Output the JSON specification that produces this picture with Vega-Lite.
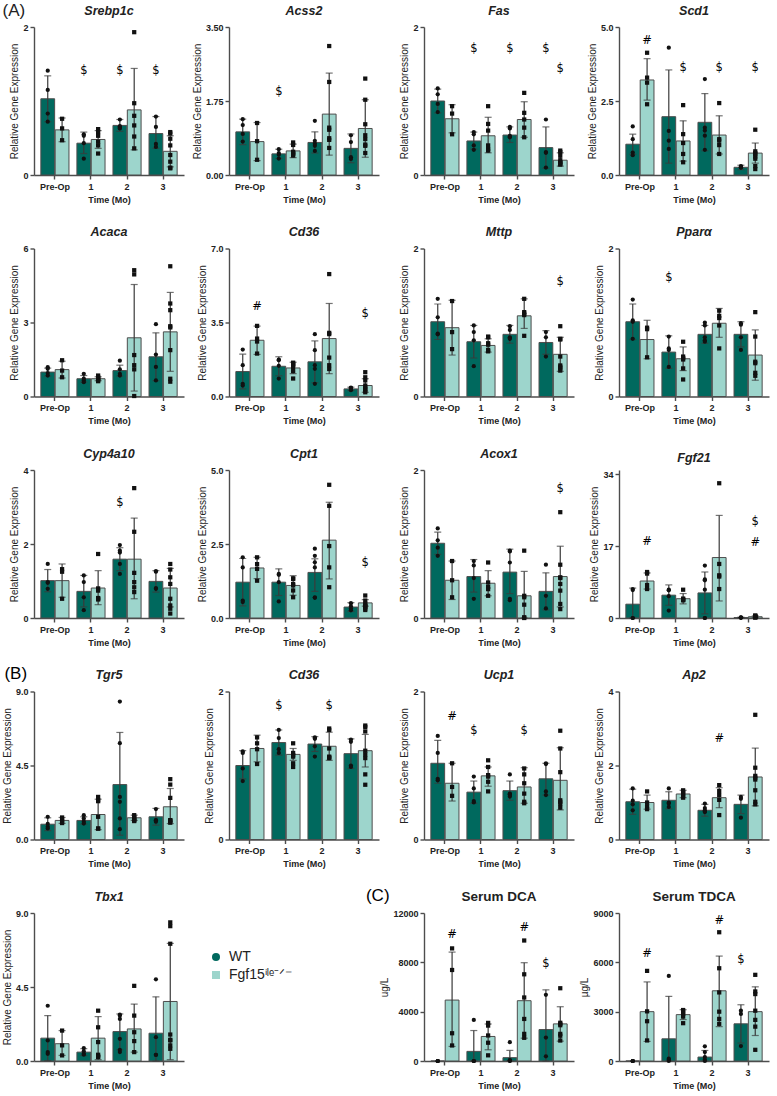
{
"$schema":"https://vega.github.io/schema/vega-lite/v6.json",
"background":"white",
"padding":{"left":2,"top":1,"right":4,"bottom":1},
"title":{"text":"(A)","anchor":"start","frame":"bounds","offset":-15,"fontSize":17,"fontWeight":"normal","fontStyle":"normal","color":"#222222"},
"columns":4,
"spacing":{"row":73.5,"column":45},
"bounds":"flush",
"resolve":{"legend":{"fill":"independent","shape":"independent"}},
"datasets":{
"Srebp1c":[
{"t":"Pre-Op","g":"WT","m":1.03,"lo":0.72,"hi":1.34},{"t":"Pre-Op","g":"KO","m":0.61,"lo":0.45,"hi":0.77},{"t":"1","g":"WT","m":0.43,"lo":0.29,"hi":0.58},{"t":"1","g":"KO","m":0.48,"lo":0.36,"hi":0.60},{"t":"2","g":"WT","m":0.67,"lo":0.59,"hi":0.75},{"t":"2","g":"KO","m":0.88,"lo":0.34,"hi":1.44},{"t":"3","g":"WT","m":0.56,"lo":0.36,"hi":0.79},{"t":"3","g":"KO","m":0.32,"lo":0.11,"hi":0.53},
{"t":"Pre-Op","g":"WT","v":1.41},{"t":"Pre-Op","g":"WT","v":1.15},{"t":"Pre-Op","g":"WT","v":0.83},{"t":"Pre-Op","g":"WT","v":0.72},
{"t":"Pre-Op","g":"KO","v":0.76},{"t":"Pre-Op","g":"KO","v":0.63},{"t":"Pre-Op","g":"KO","v":0.47},
{"t":"1","g":"WT","v":0.55},{"t":"1","g":"WT","v":0.53},{"t":"1","g":"WT","v":0.43},{"t":"1","g":"WT","v":0.22},
{"t":"1","g":"KO","v":0.62},{"t":"1","g":"KO","v":0.58},{"t":"1","g":"KO","v":0.53},{"t":"1","g":"KO","v":0.45},{"t":"1","g":"KO","v":0.40},{"t":"1","g":"KO","v":0.29},
{"t":"2","g":"WT","v":0.75},{"t":"2","g":"WT","v":0.66},{"t":"2","g":"WT","v":0.65},{"t":"2","g":"WT","v":0.64},{"t":"2","g":"WT","v":0.63},
{"t":"2","g":"KO","v":1.93},{"t":"2","g":"KO","v":0.97},{"t":"2","g":"KO","v":0.80},{"t":"2","g":"KO","v":0.67},{"t":"2","g":"KO","v":0.52},{"t":"2","g":"KO","v":0.36},
{"t":"3","g":"WT","v":0.79},{"t":"3","g":"WT","v":0.65},{"t":"3","g":"WT","v":0.42},{"t":"3","g":"WT","v":0.38},
{"t":"3","g":"KO","v":0.58},{"t":"3","g":"KO","v":0.56},{"t":"3","g":"KO","v":0.49},{"t":"3","g":"KO","v":0.40},{"t":"3","g":"KO","v":0.27},{"t":"3","g":"KO","v":0.18},{"t":"3","g":"KO","v":0.10},{"t":"3","g":"KO","v":0.09},
{"t":"1","g":"WT","lab":"$","ya":1.41},{"t":"2","g":"WT","lab":"$","ya":1.41},{"t":"3","g":"WT","lab":"$","ya":1.41}
],
"Acss2":[
{"t":"Pre-Op","g":"WT","m":1.02,"lo":0.72,"hi":1.32},{"t":"Pre-Op","g":"KO","m":0.79,"lo":0.34,"hi":1.24},{"t":"1","g":"WT","m":0.50,"lo":0.39,"hi":0.61},{"t":"1","g":"KO","m":0.57,"lo":0.41,"hi":0.73},{"t":"2","g":"WT","m":0.77,"lo":0.52,"hi":1.02},{"t":"2","g":"KO","m":1.44,"lo":0.47,"hi":2.41},{"t":"3","g":"WT","m":0.63,"lo":0.29,"hi":0.97},{"t":"3","g":"KO","m":1.10,"lo":0.42,"hi":1.78},
{"t":"Pre-Op","g":"WT","v":1.32},{"t":"Pre-Op","g":"WT","v":1.18},{"t":"Pre-Op","g":"WT","v":0.97},{"t":"Pre-Op","g":"WT","v":0.79},
{"t":"Pre-Op","g":"KO","v":1.23},{"t":"Pre-Op","g":"KO","v":0.80},{"t":"Pre-Op","g":"KO","v":0.36},
{"t":"1","g":"WT","v":0.61},{"t":"1","g":"WT","v":0.52},{"t":"1","g":"WT","v":0.48},{"t":"1","g":"WT","v":0.39},
{"t":"1","g":"KO","v":0.77},{"t":"1","g":"KO","v":0.71},{"t":"1","g":"KO","v":0.55},{"t":"1","g":"KO","v":0.52},{"t":"1","g":"KO","v":0.50},{"t":"1","g":"KO","v":0.46},
{"t":"2","g":"WT","v":1.28},{"t":"2","g":"WT","v":0.81},{"t":"2","g":"WT","v":0.74},{"t":"2","g":"WT","v":0.69},{"t":"2","g":"WT","v":0.57},
{"t":"2","g":"KO","v":3.05},{"t":"2","g":"KO","v":2.20},{"t":"2","g":"KO","v":1.12},{"t":"2","g":"KO","v":1.07},{"t":"2","g":"KO","v":0.87},{"t":"2","g":"KO","v":0.83},{"t":"2","g":"KO","v":0.64},
{"t":"3","g":"WT","v":0.94},{"t":"3","g":"WT","v":0.78},{"t":"3","g":"WT","v":0.42},{"t":"3","g":"WT","v":0.38},
{"t":"3","g":"KO","v":2.28},{"t":"3","g":"KO","v":1.78},{"t":"3","g":"KO","v":1.20},{"t":"3","g":"KO","v":0.94},{"t":"3","g":"KO","v":0.85},{"t":"3","g":"KO","v":0.72},{"t":"3","g":"KO","v":0.69},{"t":"3","g":"KO","v":0.52},
{"t":"1","g":"WT","lab":"$","ya":1.97}
],
"Fas":[
{"t":"Pre-Op","g":"WT","m":1.00,"lo":0.84,"hi":1.16},{"t":"Pre-Op","g":"KO","m":0.76,"lo":0.57,"hi":0.95},{"t":"1","g":"WT","m":0.46,"lo":0.35,"hi":0.58},{"t":"1","g":"KO","m":0.53,"lo":0.30,"hi":0.78},{"t":"2","g":"WT","m":0.54,"lo":0.44,"hi":0.65},{"t":"2","g":"KO","m":0.75,"lo":0.51,"hi":0.99},{"t":"3","g":"WT","m":0.37,"lo":0.09,"hi":0.65},{"t":"3","g":"KO","m":0.20,"lo":0.12,"hi":0.30},
{"t":"Pre-Op","g":"WT","v":1.17},{"t":"Pre-Op","g":"WT","v":1.09},{"t":"Pre-Op","g":"WT","v":0.96},{"t":"Pre-Op","g":"WT","v":0.85},
{"t":"Pre-Op","g":"KO","v":0.93},{"t":"Pre-Op","g":"KO","v":0.83},{"t":"Pre-Op","g":"KO","v":0.55},
{"t":"1","g":"WT","v":0.58},{"t":"1","g":"WT","v":0.55},{"t":"1","g":"WT","v":0.40},{"t":"1","g":"WT","v":0.34},
{"t":"1","g":"KO","v":0.93},{"t":"1","g":"KO","v":0.69},{"t":"1","g":"KO","v":0.60},{"t":"1","g":"KO","v":0.40},{"t":"1","g":"KO","v":0.35},{"t":"1","g":"KO","v":0.33},
{"t":"2","g":"WT","v":0.65},{"t":"2","g":"WT","v":0.63},{"t":"2","g":"WT","v":0.53},{"t":"2","g":"WT","v":0.52},{"t":"2","g":"WT","v":0.51},
{"t":"2","g":"KO","v":1.11},{"t":"2","g":"KO","v":0.84},{"t":"2","g":"KO","v":0.75},{"t":"2","g":"KO","v":0.64},{"t":"2","g":"KO","v":0.51},
{"t":"3","g":"WT","v":0.75},{"t":"3","g":"WT","v":0.31},{"t":"3","g":"WT","v":0.30},{"t":"3","g":"WT","v":0.10},
{"t":"3","g":"KO","v":0.33},{"t":"3","g":"KO","v":0.31},{"t":"3","g":"KO","v":0.26},{"t":"3","g":"KO","v":0.20},{"t":"3","g":"KO","v":0.17},{"t":"3","g":"KO","v":0.17},{"t":"3","g":"KO","v":0.15},{"t":"3","g":"KO","v":0.14},
{"t":"1","g":"WT","lab":"$","ya":1.70},{"t":"2","g":"WT","lab":"$","ya":1.70},{"t":"3","g":"WT","lab":"$","ya":1.70},{"t":"3","g":"KO","lab":"$","ya":1.43}
],
"Scd1":[
{"t":"Pre-Op","g":"WT","m":1.04,"lo":0.70,"hi":1.38},{"t":"Pre-Op","g":"KO","m":3.21,"lo":2.53,"hi":3.93},{"t":"1","g":"WT","m":1.97,"lo":0.40,"hi":3.55},{"t":"1","g":"KO","m":1.15,"lo":0.47,"hi":1.83},{"t":"2","g":"WT","m":1.78,"lo":0.82,"hi":2.75},{"t":"2","g":"KO","m":1.35,"lo":0.71,"hi":2.00},{"t":"3","g":"WT","m":0.26,"lo":0.18,"hi":0.33},{"t":"3","g":"KO","m":0.74,"lo":0.40,"hi":1.08},
{"t":"Pre-Op","g":"WT","v":1.64},{"t":"Pre-Op","g":"WT","v":1.21},{"t":"Pre-Op","g":"WT","v":0.76},{"t":"Pre-Op","g":"WT","v":0.67},
{"t":"Pre-Op","g":"KO","v":4.13},{"t":"Pre-Op","g":"KO","v":3.29},{"t":"Pre-Op","g":"KO","v":3.12},{"t":"Pre-Op","g":"KO","v":2.39},
{"t":"1","g":"WT","v":4.30},{"t":"1","g":"WT","v":1.49},{"t":"1","g":"WT","v":1.16},{"t":"1","g":"WT","v":0.88},
{"t":"1","g":"KO","v":2.36},{"t":"1","g":"KO","v":1.38},{"t":"1","g":"KO","v":1.08},{"t":"1","g":"KO","v":0.71},{"t":"1","g":"KO","v":0.43},
{"t":"2","g":"WT","v":3.24},{"t":"2","g":"WT","v":1.60},{"t":"2","g":"WT","v":1.50},{"t":"2","g":"WT","v":1.33},{"t":"2","g":"WT","v":0.85},
{"t":"2","g":"KO","v":2.43},{"t":"2","g":"KO","v":1.21},{"t":"2","g":"KO","v":1.16},{"t":"2","g":"KO","v":1.01},{"t":"2","g":"KO","v":0.71},
{"t":"3","g":"WT","v":0.30},{"t":"3","g":"WT","v":0.28},{"t":"3","g":"WT","v":0.26},{"t":"3","g":"WT","v":0.25},
{"t":"3","g":"KO","v":1.53},{"t":"3","g":"KO","v":0.80},{"t":"3","g":"KO","v":0.74},{"t":"3","g":"KO","v":0.70},{"t":"3","g":"KO","v":0.62},{"t":"3","g":"KO","v":0.55},{"t":"3","g":"KO","v":0.30},{"t":"3","g":"KO","v":0.20},
{"t":"Pre-Op","g":"KO","lab":"#","ya":4.53},{"t":"1","g":"KO","lab":"$","ya":3.63},{"t":"2","g":"KO","lab":"$","ya":3.63},{"t":"3","g":"KO","lab":"$","ya":3.63}
],
"Acaca":[
{"t":"Pre-Op","g":"WT","m":0.99,"lo":0.83,"hi":1.15},{"t":"Pre-Op","g":"KO","m":1.09,"lo":0.75,"hi":1.43},{"t":"1","g":"WT","m":0.72,"lo":0.59,"hi":0.85},{"t":"1","g":"KO","m":0.72,"lo":0.64,"hi":0.80},{"t":"2","g":"WT","m":1.05,"lo":0.83,"hi":1.27},{"t":"2","g":"KO","m":2.38,"lo":0.22,"hi":4.54},{"t":"3","g":"WT","m":1.61,"lo":0.64,"hi":2.58},{"t":"3","g":"KO","m":2.62,"lo":1.02,"hi":4.22},
{"t":"Pre-Op","g":"WT","v":1.19},{"t":"Pre-Op","g":"WT","v":1.12},{"t":"Pre-Op","g":"WT","v":0.95},{"t":"Pre-Op","g":"WT","v":0.85},
{"t":"Pre-Op","g":"KO","v":1.47},{"t":"Pre-Op","g":"KO","v":1.05},{"t":"Pre-Op","g":"KO","v":0.78},
{"t":"1","g":"WT","v":0.92},{"t":"1","g":"WT","v":0.72},{"t":"1","g":"WT","v":0.65},{"t":"1","g":"WT","v":0.58},
{"t":"1","g":"KO","v":0.85},{"t":"1","g":"KO","v":0.78},{"t":"1","g":"KO","v":0.74},{"t":"1","g":"KO","v":0.70},{"t":"1","g":"KO","v":0.66},{"t":"1","g":"KO","v":0.62},
{"t":"2","g":"WT","v":1.45},{"t":"2","g":"WT","v":1.10},{"t":"2","g":"WT","v":0.92},{"t":"2","g":"WT","v":0.85},
{"t":"2","g":"KO","v":5.12},{"t":"2","g":"KO","v":4.95},{"t":"2","g":"KO","v":1.68},{"t":"2","g":"KO","v":1.27},{"t":"2","g":"KO","v":1.10},{"t":"2","g":"KO","v":0.02},
{"t":"3","g":"WT","v":2.93},{"t":"3","g":"WT","v":1.70},{"t":"3","g":"WT","v":1.20},{"t":"3","g":"WT","v":0.65},
{"t":"3","g":"KO","v":5.28},{"t":"3","g":"KO","v":3.77},{"t":"3","g":"KO","v":3.50},{"t":"3","g":"KO","v":2.85},{"t":"3","g":"KO","v":2.80},{"t":"3","g":"KO","v":1.88},{"t":"3","g":"KO","v":0.72},{"t":"3","g":"KO","v":0.60}
],
"Cd36A":[
{"t":"Pre-Op","g":"WT","m":1.18,"lo":0.36,"hi":2.00},{"t":"Pre-Op","g":"KO","m":2.66,"lo":1.99,"hi":3.33},{"t":"1","g":"WT","m":1.43,"lo":0.98,"hi":1.88},{"t":"1","g":"KO","m":1.35,"lo":1.08,"hi":1.62},{"t":"2","g":"WT","m":1.64,"lo":0.65,"hi":2.63},{"t":"2","g":"KO","m":2.74,"lo":1.08,"hi":4.40},{"t":"3","g":"WT","m":0.36,"lo":0.28,"hi":0.44},{"t":"3","g":"KO","m":0.52,"lo":0.20,"hi":0.84},
{"t":"Pre-Op","g":"WT","v":2.22},{"t":"Pre-Op","g":"WT","v":1.48},{"t":"Pre-Op","g":"WT","v":0.60},{"t":"Pre-Op","g":"WT","v":0.52},
{"t":"Pre-Op","g":"KO","v":3.34},{"t":"Pre-Op","g":"KO","v":2.74},{"t":"Pre-Op","g":"KO","v":2.60},{"t":"Pre-Op","g":"KO","v":2.03},
{"t":"1","g":"WT","v":1.75},{"t":"1","g":"WT","v":1.72},{"t":"1","g":"WT","v":1.45},{"t":"1","g":"WT","v":0.85},
{"t":"1","g":"KO","v":1.60},{"t":"1","g":"KO","v":1.55},{"t":"1","g":"KO","v":1.50},{"t":"1","g":"KO","v":1.40},{"t":"1","g":"KO","v":1.20},{"t":"1","g":"KO","v":0.85},
{"t":"2","g":"WT","v":2.95},{"t":"2","g":"WT","v":2.19},{"t":"2","g":"WT","v":1.48},{"t":"2","g":"WT","v":1.31},{"t":"2","g":"WT","v":0.60},
{"t":"2","g":"KO","v":5.79},{"t":"2","g":"KO","v":3.01},{"t":"2","g":"KO","v":2.95},{"t":"2","g":"KO","v":1.84},{"t":"2","g":"KO","v":1.48},{"t":"2","g":"KO","v":1.30},
{"t":"3","g":"WT","v":0.42},{"t":"3","g":"WT","v":0.40},{"t":"3","g":"WT","v":0.38},{"t":"3","g":"WT","v":0.30},
{"t":"3","g":"KO","v":1.15},{"t":"3","g":"KO","v":0.91},{"t":"3","g":"KO","v":0.76},{"t":"3","g":"KO","v":0.52},{"t":"3","g":"KO","v":0.44},{"t":"3","g":"KO","v":0.35},{"t":"3","g":"KO","v":0.28},{"t":"3","g":"KO","v":0.20},
{"t":"Pre-Op","g":"KO","lab":"#","ya":4.21},{"t":"3","g":"KO","lab":"$","ya":3.88}
],
"Mttp":[
{"t":"Pre-Op","g":"WT","m":1.01,"lo":0.77,"hi":1.25},{"t":"Pre-Op","g":"KO","m":0.93,"lo":0.56,"hi":1.30},{"t":"1","g":"WT","m":0.74,"lo":0.52,"hi":0.96},{"t":"1","g":"KO","m":0.69,"lo":0.60,"hi":0.78},{"t":"2","g":"WT","m":0.84,"lo":0.72,"hi":0.96},{"t":"2","g":"KO","m":1.09,"lo":0.92,"hi":1.32},{"t":"3","g":"WT","m":0.73,"lo":0.57,"hi":0.89},{"t":"3","g":"KO","m":0.57,"lo":0.34,"hi":0.80},
{"t":"Pre-Op","g":"WT","v":1.32},{"t":"Pre-Op","g":"WT","v":1.07},{"t":"Pre-Op","g":"WT","v":0.85},{"t":"Pre-Op","g":"WT","v":0.84},
{"t":"Pre-Op","g":"KO","v":1.29},{"t":"Pre-Op","g":"KO","v":0.87},{"t":"Pre-Op","g":"KO","v":0.64},
{"t":"1","g":"WT","v":0.96},{"t":"1","g":"WT","v":0.87},{"t":"1","g":"WT","v":0.76},{"t":"1","g":"WT","v":0.41},
{"t":"1","g":"KO","v":0.81},{"t":"1","g":"KO","v":0.80},{"t":"1","g":"KO","v":0.72},{"t":"1","g":"KO","v":0.70},{"t":"1","g":"KO","v":0.63},{"t":"1","g":"KO","v":0.61},
{"t":"2","g":"WT","v":0.95},{"t":"2","g":"WT","v":0.90},{"t":"2","g":"WT","v":0.80},{"t":"2","g":"WT","v":0.79},{"t":"2","g":"WT","v":0.78},
{"t":"2","g":"KO","v":1.32},{"t":"2","g":"KO","v":1.14},{"t":"2","g":"KO","v":1.12},{"t":"2","g":"KO","v":1.10},{"t":"2","g":"KO","v":0.82},
{"t":"3","g":"WT","v":0.87},{"t":"3","g":"WT","v":0.80},{"t":"3","g":"WT","v":0.54},
{"t":"3","g":"KO","v":0.95},{"t":"3","g":"KO","v":0.78},{"t":"3","g":"KO","v":0.77},{"t":"3","g":"KO","v":0.54},{"t":"3","g":"KO","v":0.42},{"t":"3","g":"KO","v":0.40},{"t":"3","g":"KO","v":0.38},{"t":"3","g":"KO","v":0.35},
{"t":"3","g":"KO","lab":"$","ya":1.55}
],
"Ppara":[
{"t":"Pre-Op","g":"WT","m":1.01,"lo":0.77,"hi":1.25},{"t":"Pre-Op","g":"KO","m":0.77,"lo":0.51,"hi":1.03},{"t":"1","g":"WT","m":0.60,"lo":0.38,"hi":0.82},{"t":"1","g":"KO","m":0.51,"lo":0.35,"hi":0.67},{"t":"2","g":"WT","m":0.84,"lo":0.72,"hi":0.96},{"t":"2","g":"KO","m":0.99,"lo":0.80,"hi":1.19},{"t":"3","g":"WT","m":0.84,"lo":0.67,"hi":1.01},{"t":"3","g":"KO","m":0.56,"lo":0.22,"hi":0.90},
{"t":"Pre-Op","g":"WT","v":1.31},{"t":"Pre-Op","g":"WT","v":1.03},{"t":"Pre-Op","g":"WT","v":1.01},{"t":"Pre-Op","g":"WT","v":0.78},
{"t":"Pre-Op","g":"KO","v":0.93},{"t":"Pre-Op","g":"KO","v":0.91},{"t":"Pre-Op","g":"KO","v":0.53},
{"t":"1","g":"WT","v":0.81},{"t":"1","g":"WT","v":0.65},{"t":"1","g":"WT","v":0.63},{"t":"1","g":"WT","v":0.40},
{"t":"1","g":"KO","v":0.74},{"t":"1","g":"KO","v":0.54},{"t":"1","g":"KO","v":0.52},{"t":"1","g":"KO","v":0.50},{"t":"1","g":"KO","v":0.38},{"t":"1","g":"KO","v":0.23},
{"t":"2","g":"WT","v":1.00},{"t":"2","g":"WT","v":0.96},{"t":"2","g":"WT","v":0.80},{"t":"2","g":"WT","v":0.76},{"t":"2","g":"WT","v":0.74},
{"t":"2","g":"KO","v":1.16},{"t":"2","g":"KO","v":1.09},{"t":"2","g":"KO","v":1.06},{"t":"2","g":"KO","v":0.96},{"t":"2","g":"KO","v":0.65},
{"t":"3","g":"WT","v":0.99},{"t":"3","g":"WT","v":0.97},{"t":"3","g":"WT","v":0.80},{"t":"3","g":"WT","v":0.63},
{"t":"3","g":"KO","v":1.14},{"t":"3","g":"KO","v":0.81},{"t":"3","g":"KO","v":0.47},{"t":"3","g":"KO","v":0.45},{"t":"3","g":"KO","v":0.32},{"t":"3","g":"KO","v":0.28},
{"t":"1","g":"WT","lab":"$","ya":1.60}
],
"Cyp4a10":[
{"t":"Pre-Op","g":"WT","m":1.01,"lo":0.71,"hi":1.31},{"t":"Pre-Op","g":"KO","m":1.01,"lo":0.56,"hi":1.46},{"t":"1","g":"WT","m":0.72,"lo":0.30,"hi":1.15},{"t":"1","g":"KO","m":0.81,"lo":0.36,"hi":1.28},{"t":"2","g":"WT","m":1.59,"lo":1.28,"hi":1.90},{"t":"2","g":"KO","m":1.59,"lo":0.52,"hi":2.70},{"t":"3","g":"WT","m":0.99,"lo":0.70,"hi":1.28},{"t":"3","g":"KO","m":0.81,"lo":0.30,"hi":1.34},
{"t":"Pre-Op","g":"WT","v":1.46},{"t":"Pre-Op","g":"WT","v":0.97},{"t":"Pre-Op","g":"WT","v":0.95},{"t":"Pre-Op","g":"WT","v":0.79},
{"t":"Pre-Op","g":"KO","v":1.32},{"t":"Pre-Op","g":"KO","v":1.25},{"t":"Pre-Op","g":"KO","v":0.52},
{"t":"1","g":"WT","v":1.15},{"t":"1","g":"WT","v":0.97},{"t":"1","g":"WT","v":0.56},{"t":"1","g":"WT","v":0.21},
{"t":"1","g":"KO","v":1.73},{"t":"1","g":"KO","v":0.80},{"t":"1","g":"KO","v":0.74},{"t":"1","g":"KO","v":0.54},{"t":"1","g":"KO","v":0.52},{"t":"1","g":"KO","v":0.50},
{"t":"2","g":"WT","v":1.97},{"t":"2","g":"WT","v":1.82},{"t":"2","g":"WT","v":1.77},{"t":"2","g":"WT","v":1.46},{"t":"2","g":"WT","v":1.19},
{"t":"2","g":"KO","v":3.51},{"t":"2","g":"KO","v":2.33},{"t":"2","g":"KO","v":1.22},{"t":"2","g":"KO","v":0.97},{"t":"2","g":"KO","v":0.83},{"t":"2","g":"KO","v":0.70},
{"t":"3","g":"WT","v":1.27},{"t":"3","g":"WT","v":1.25},{"t":"3","g":"WT","v":0.81},{"t":"3","g":"WT","v":0.79},
{"t":"3","g":"KO","v":1.46},{"t":"3","g":"KO","v":1.31},{"t":"3","g":"KO","v":1.10},{"t":"3","g":"KO","v":0.92},{"t":"3","g":"KO","v":0.52},{"t":"3","g":"KO","v":0.34},{"t":"3","g":"KO","v":0.25},{"t":"3","g":"KO","v":0.12},
{"t":"2","g":"WT","lab":"$","ya":3.10}
],
"Cpt1":[
{"t":"Pre-Op","g":"WT","m":1.21,"lo":0.41,"hi":2.01},{"t":"Pre-Op","g":"KO","m":1.69,"lo":1.33,"hi":2.05},{"t":"1","g":"WT","m":1.21,"lo":0.76,"hi":1.66},{"t":"1","g":"KO","m":1.10,"lo":0.77,"hi":1.43},{"t":"2","g":"WT","m":1.54,"lo":0.90,"hi":2.00},{"t":"2","g":"KO","m":2.63,"lo":1.32,"hi":3.91},{"t":"3","g":"WT","m":0.37,"lo":0.22,"hi":0.52},{"t":"3","g":"KO","m":0.51,"lo":0.40,"hi":0.62},
{"t":"Pre-Op","g":"WT","v":2.05},{"t":"Pre-Op","g":"WT","v":1.71},{"t":"Pre-Op","g":"WT","v":0.59},{"t":"Pre-Op","g":"WT","v":0.54},
{"t":"Pre-Op","g":"KO","v":2.05},{"t":"Pre-Op","g":"KO","v":1.82},{"t":"Pre-Op","g":"KO","v":1.66},{"t":"Pre-Op","g":"KO","v":1.26},
{"t":"1","g":"WT","v":1.49},{"t":"1","g":"WT","v":1.46},{"t":"1","g":"WT","v":1.21},{"t":"1","g":"WT","v":0.56},
{"t":"1","g":"KO","v":1.34},{"t":"1","g":"KO","v":1.32},{"t":"1","g":"KO","v":1.15},{"t":"1","g":"KO","v":1.10},{"t":"1","g":"KO","v":0.93},{"t":"1","g":"KO","v":0.70},
{"t":"2","g":"WT","v":2.34},{"t":"2","g":"WT","v":2.10},{"t":"2","g":"WT","v":1.88},{"t":"2","g":"WT","v":1.71},{"t":"2","g":"WT","v":0.70},{"t":"2","g":"WT","v":0.68},
{"t":"2","g":"KO","v":4.50},{"t":"2","g":"KO","v":3.79},{"t":"2","g":"KO","v":2.43},{"t":"2","g":"KO","v":1.71},{"t":"2","g":"KO","v":1.04},
{"t":"3","g":"WT","v":0.50},{"t":"3","g":"WT","v":0.40},{"t":"3","g":"WT","v":0.32},{"t":"3","g":"WT","v":0.26},
{"t":"3","g":"KO","v":0.76},{"t":"3","g":"KO","v":0.59},{"t":"3","g":"KO","v":0.48},{"t":"3","g":"KO","v":0.43},{"t":"3","g":"KO","v":0.40},{"t":"3","g":"KO","v":0.38},{"t":"3","g":"KO","v":0.32},{"t":"3","g":"KO","v":0.27},
{"t":"3","g":"KO","lab":"$","ya":1.86}
],
"Acox1":[
{"t":"Pre-Op","g":"WT","m":1.01,"lo":0.86,"hi":1.16},{"t":"Pre-Op","g":"KO","m":0.51,"lo":0.25,"hi":0.77},{"t":"1","g":"WT","m":0.56,"lo":0.35,"hi":0.79},{"t":"1","g":"KO","m":0.47,"lo":0.30,"hi":0.64},{"t":"2","g":"WT","m":0.62,"lo":0.33,"hi":0.93},{"t":"2","g":"KO","m":0.30,"lo":0.0,"hi":0.63},{"t":"3","g":"WT","m":0.36,"lo":0.11,"hi":0.61},{"t":"3","g":"KO","m":0.56,"lo":0.15,"hi":0.97},
{"t":"Pre-Op","g":"WT","v":1.21},{"t":"Pre-Op","g":"WT","v":1.05},{"t":"Pre-Op","g":"WT","v":0.95},{"t":"Pre-Op","g":"WT","v":0.84},
{"t":"Pre-Op","g":"KO","v":0.77},{"t":"Pre-Op","g":"KO","v":0.51},{"t":"Pre-Op","g":"KO","v":0.28},
{"t":"1","g":"WT","v":0.77},{"t":"1","g":"WT","v":0.71},{"t":"1","g":"WT","v":0.54},{"t":"1","g":"WT","v":0.26},
{"t":"1","g":"KO","v":0.75},{"t":"1","g":"KO","v":0.48},{"t":"1","g":"KO","v":0.42},{"t":"1","g":"KO","v":0.39},{"t":"1","g":"KO","v":0.30},
{"t":"2","g":"WT","v":0.91},{"t":"2","g":"WT","v":0.90},{"t":"2","g":"WT","v":0.75},{"t":"2","g":"WT","v":0.26},{"t":"2","g":"WT","v":0.24},
{"t":"2","g":"KO","v":0.91},{"t":"2","g":"KO","v":0.30},{"t":"2","g":"KO","v":0.28},{"t":"2","g":"KO","v":0.18},{"t":"2","g":"KO","v":0.01},{"t":"2","g":"KO","v":0.0},
{"t":"3","g":"WT","v":0.72},{"t":"3","g":"WT","v":0.30},{"t":"3","g":"WT","v":0.13},
{"t":"3","g":"KO","v":1.43},{"t":"3","g":"KO","v":0.72},{"t":"3","g":"KO","v":0.55},{"t":"3","g":"KO","v":0.54},{"t":"3","g":"KO","v":0.46},{"t":"3","g":"KO","v":0.37},{"t":"3","g":"KO","v":0.19},{"t":"3","g":"KO","v":0.12},
{"t":"3","g":"KO","lab":"$","ya":1.74}
],
"Fgf21":[
{"t":"Pre-Op","g":"WT","m":3.27,"lo":0.0,"hi":7.07},{"t":"Pre-Op","g":"KO","m":8.75,"lo":6.85,"hi":10.65},{"t":"1","g":"WT","m":5.4,"lo":3.0,"hi":7.83},{"t":"1","g":"KO","m":4.56,"lo":3.34,"hi":5.78},{"t":"2","g":"WT","m":5.93,"lo":0.99,"hi":10.88},{"t":"2","g":"KO","m":14.3,"lo":4.03,"hi":24.26},{"t":"3","g":"WT","m":0.1,"lo":0.0,"hi":0.2},{"t":"3","g":"KO","m":0.3,"lo":0.1,"hi":0.5},
{"t":"Pre-Op","g":"WT","v":6.85},{"t":"Pre-Op","g":"WT","v":6.6},{"t":"Pre-Op","g":"WT","v":0.0},{"t":"Pre-Op","g":"WT","v":0.0},
{"t":"Pre-Op","g":"KO","v":10.88},{"t":"Pre-Op","g":"KO","v":10.5},{"t":"Pre-Op","g":"KO","v":7.8},{"t":"Pre-Op","g":"KO","v":6.85},
{"t":"1","g":"WT","v":6.69},{"t":"1","g":"WT","v":6.55},{"t":"1","g":"WT","v":5.17},{"t":"1","g":"WT","v":1.75},
{"t":"1","g":"KO","v":6.69},{"t":"1","g":"KO","v":4.6},{"t":"1","g":"KO","v":4.4},{"t":"1","g":"KO","v":4.25},{"t":"1","g":"KO","v":4.2},
{"t":"2","g":"WT","v":12.4},{"t":"2","g":"WT","v":9.13},{"t":"2","g":"WT","v":8.9},{"t":"2","g":"WT","v":6.69},{"t":"2","g":"WT","v":0.0},{"t":"2","g":"WT","v":0.0},
{"t":"2","g":"KO","v":31.87},{"t":"2","g":"KO","v":12.78},{"t":"2","g":"KO","v":10.1},{"t":"2","g":"KO","v":9.8},{"t":"2","g":"KO","v":6.85},
{"t":"3","g":"WT","v":0.1},{"t":"3","g":"WT","v":0.05},{"t":"3","g":"WT","v":0.15},{"t":"3","g":"WT","v":0.1},
{"t":"3","g":"KO","v":0.6},{"t":"3","g":"KO","v":0.5},{"t":"3","g":"KO","v":0.2},{"t":"3","g":"KO","v":0.1},{"t":"3","g":"KO","v":0.3},{"t":"3","g":"KO","v":0.4},{"t":"3","g":"KO","v":0.2},
{"t":"Pre-Op","g":"KO","lab":"#","ya":17.87},{"t":"3","g":"KO","lab":"$","ya":22.7},{"t":"3","g":"KO","lab":"#","ya":17.8}
],
"Tgr5":[
{"t":"Pre-Op","g":"WT","m":0.93,"lo":0.54,"hi":1.32},{"t":"Pre-Op","g":"KO","m":1.16,"lo":0.98,"hi":1.34},{"t":"1","g":"WT","m":1.16,"lo":0.94,"hi":1.38},{"t":"1","g":"KO","m":1.52,"lo":0.60,"hi":2.45},{"t":"2","g":"WT","m":3.34,"lo":0.26,"hi":6.51},{"t":"2","g":"KO","m":1.32,"lo":1.16,"hi":1.48},{"t":"3","g":"WT","m":1.38,"lo":0.87,"hi":1.89},{"t":"3","g":"KO","m":1.99,"lo":0.97,"hi":3.10},
{"t":"Pre-Op","g":"WT","v":1.38},{"t":"Pre-Op","g":"WT","v":0.95},{"t":"Pre-Op","g":"WT","v":0.77},{"t":"Pre-Op","g":"WT","v":0.67},
{"t":"Pre-Op","g":"KO","v":1.34},{"t":"Pre-Op","g":"KO","v":1.22},{"t":"Pre-Op","g":"KO","v":1.10},{"t":"Pre-Op","g":"KO","v":1.00},
{"t":"1","g":"WT","v":1.48},{"t":"1","g":"WT","v":1.28},{"t":"1","g":"WT","v":1.08},{"t":"1","g":"WT","v":0.97},
{"t":"1","g":"KO","v":2.59},{"t":"1","g":"KO","v":2.39},{"t":"1","g":"KO","v":2.33},{"t":"1","g":"KO","v":1.38},{"t":"1","g":"KO","v":0.67},{"t":"1","g":"KO","v":0.66},
{"t":"2","g":"WT","v":8.39},{"t":"2","g":"WT","v":5.86},{"t":"2","g":"WT","v":2.59},{"t":"2","g":"WT","v":2.29},{"t":"2","g":"WT","v":1.28},{"t":"2","g":"WT","v":0.63},
{"t":"2","g":"KO","v":1.48},{"t":"2","g":"KO","v":1.38},{"t":"2","g":"KO","v":1.28},{"t":"2","g":"KO","v":1.20},{"t":"2","g":"KO","v":1.16},{"t":"2","g":"KO","v":1.12},
{"t":"3","g":"WT","v":1.85},{"t":"3","g":"WT","v":1.18},{"t":"3","g":"WT","v":1.17},{"t":"3","g":"WT","v":1.08},
{"t":"3","g":"KO","v":3.67},{"t":"3","g":"KO","v":3.34},{"t":"3","g":"KO","v":2.53},{"t":"3","g":"KO","v":1.18},{"t":"3","g":"KO","v":1.12},{"t":"3","g":"KO","v":1.16},{"t":"3","g":"KO","v":1.02}
],
"Cd36B":[
{"t":"Pre-Op","g":"WT","m":1.00,"lo":0.82,"hi":1.20},{"t":"Pre-Op","g":"KO","m":1.23,"lo":1.05,"hi":1.41},{"t":"1","g":"WT","m":1.31,"lo":1.14,"hi":1.48},{"t":"1","g":"KO","m":1.15,"lo":1.07,"hi":1.23},{"t":"2","g":"WT","m":1.29,"lo":1.19,"hi":1.39},{"t":"2","g":"KO","m":1.26,"lo":1.07,"hi":1.45},{"t":"3","g":"WT","m":1.16,"lo":0.96,"hi":1.36},{"t":"3","g":"KO","m":1.20,"lo":0.98,"hi":1.42},
{"t":"Pre-Op","g":"WT","v":1.19},{"t":"Pre-Op","g":"WT","v":1.17},{"t":"Pre-Op","g":"WT","v":0.96},{"t":"Pre-Op","g":"WT","v":0.79},
{"t":"Pre-Op","g":"KO","v":1.38},{"t":"Pre-Op","g":"KO","v":1.30},{"t":"Pre-Op","g":"KO","v":1.22},{"t":"Pre-Op","g":"KO","v":1.02},
{"t":"1","g":"WT","v":1.48},{"t":"1","g":"WT","v":1.37},{"t":"1","g":"WT","v":1.22},{"t":"1","g":"WT","v":1.17},
{"t":"1","g":"KO","v":1.30},{"t":"1","g":"KO","v":1.17},{"t":"1","g":"KO","v":1.14},{"t":"1","g":"KO","v":1.12},{"t":"1","g":"KO","v":1.03},{"t":"1","g":"KO","v":0.98},
{"t":"2","g":"WT","v":1.38},{"t":"2","g":"WT","v":1.37},{"t":"2","g":"WT","v":1.36},{"t":"2","g":"WT","v":1.26},{"t":"2","g":"WT","v":1.12},
{"t":"2","g":"KO","v":1.50},{"t":"2","g":"KO","v":1.48},{"t":"2","g":"KO","v":1.23},{"t":"2","g":"KO","v":1.12},{"t":"2","g":"KO","v":1.10},{"t":"2","g":"KO","v":1.11},
{"t":"3","g":"WT","v":1.35},{"t":"3","g":"WT","v":1.32},{"t":"3","g":"WT","v":1.00},{"t":"3","g":"WT","v":0.98},
{"t":"3","g":"KO","v":1.54},{"t":"3","g":"KO","v":1.52},{"t":"3","g":"KO","v":1.46},{"t":"3","g":"KO","v":1.20},{"t":"3","g":"KO","v":1.15},{"t":"3","g":"KO","v":1.10},{"t":"3","g":"KO","v":0.88},{"t":"3","g":"KO","v":0.74},
{"t":"1","g":"WT","lab":"$","ya":1.80},{"t":"2","g":"KO","lab":"$","ya":1.80}
],
"Ucp1":[
{"t":"Pre-Op","g":"WT","m":1.03,"lo":0.76,"hi":1.34},{"t":"Pre-Op","g":"KO","m":0.76,"lo":0.52,"hi":1.03},{"t":"1","g":"WT","m":0.64,"lo":0.49,"hi":0.79},{"t":"1","g":"KO","m":0.86,"lo":0.72,"hi":0.98},{"t":"2","g":"WT","m":0.66,"lo":0.53,"hi":0.79},{"t":"2","g":"KO","m":0.71,"lo":0.49,"hi":0.97},{"t":"3","g":"WT","m":0.82,"lo":0.60,"hi":1.03},{"t":"3","g":"KO","m":0.80,"lo":0.40,"hi":1.24},
{"t":"Pre-Op","g":"WT","v":1.40},{"t":"Pre-Op","g":"WT","v":1.17},{"t":"Pre-Op","g":"WT","v":0.82},{"t":"Pre-Op","g":"WT","v":0.80},
{"t":"Pre-Op","g":"KO","v":1.03},{"t":"Pre-Op","g":"KO","v":0.71},{"t":"Pre-Op","g":"KO","v":0.59},
{"t":"1","g":"WT","v":0.85},{"t":"1","g":"WT","v":0.69},{"t":"1","g":"WT","v":0.52},{"t":"1","g":"WT","v":0.50},
{"t":"1","g":"KO","v":1.07},{"t":"1","g":"KO","v":0.98},{"t":"1","g":"KO","v":0.87},{"t":"1","g":"KO","v":0.85},{"t":"1","g":"KO","v":0.78},{"t":"1","g":"KO","v":0.65},
{"t":"2","g":"WT","v":0.88},{"t":"2","g":"WT","v":0.62},{"t":"2","g":"WT","v":0.61},{"t":"2","g":"WT","v":0.60},{"t":"2","g":"WT","v":0.58},
{"t":"2","g":"KO","v":0.96},{"t":"2","g":"KO","v":0.88},{"t":"2","g":"KO","v":0.76},{"t":"2","g":"KO","v":0.62},{"t":"2","g":"KO","v":0.51},{"t":"2","g":"KO","v":0.49},
{"t":"3","g":"WT","v":1.03},{"t":"3","g":"WT","v":1.02},{"t":"3","g":"WT","v":0.65},{"t":"3","g":"WT","v":0.60},
{"t":"3","g":"KO","v":1.47},{"t":"3","g":"KO","v":1.23},{"t":"3","g":"KO","v":0.91},{"t":"3","g":"KO","v":0.53},{"t":"3","g":"KO","v":0.51},{"t":"3","g":"KO","v":0.48},{"t":"3","g":"KO","v":0.43},
{"t":"Pre-Op","g":"KO","lab":"#","ya":1.66},{"t":"1","g":"WT","lab":"$","ya":1.46},{"t":"2","g":"KO","lab":"$","ya":1.46}
],
"Ap2":[
{"t":"Pre-Op","g":"WT","m":1.02,"lo":0.68,"hi":1.36},{"t":"Pre-Op","g":"KO","m":1.00,"lo":0.82,"hi":1.20},{"t":"1","g":"WT","m":1.06,"lo":0.83,"hi":1.29},{"t":"1","g":"KO","m":1.23,"lo":1.13,"hi":1.33},{"t":"2","g":"WT","m":0.79,"lo":0.63,"hi":0.95},{"t":"2","g":"KO","m":1.13,"lo":0.86,"hi":1.40},{"t":"3","g":"WT","m":0.95,"lo":0.70,"hi":1.20},{"t":"3","g":"KO","m":1.69,"lo":0.91,"hi":2.47},
{"t":"Pre-Op","g":"WT","v":1.38},{"t":"Pre-Op","g":"WT","v":1.05},{"t":"Pre-Op","g":"WT","v":0.95},{"t":"Pre-Op","g":"WT","v":0.79},
{"t":"Pre-Op","g":"KO","v":1.30},{"t":"Pre-Op","g":"KO","v":1.00},{"t":"Pre-Op","g":"KO","v":0.90},{"t":"Pre-Op","g":"KO","v":0.82},
{"t":"1","g":"WT","v":1.38},{"t":"1","g":"WT","v":1.00},{"t":"1","g":"WT","v":0.97},{"t":"1","g":"WT","v":0.88},
{"t":"1","g":"KO","v":1.33},{"t":"1","g":"KO","v":1.28},{"t":"1","g":"KO","v":1.24},{"t":"1","g":"KO","v":1.18},{"t":"1","g":"KO","v":1.13},
{"t":"2","g":"WT","v":0.97},{"t":"2","g":"WT","v":0.85},{"t":"2","g":"WT","v":0.79},{"t":"2","g":"WT","v":0.76},{"t":"2","g":"WT","v":0.74},
{"t":"2","g":"KO","v":1.47},{"t":"2","g":"KO","v":1.31},{"t":"2","g":"KO","v":1.20},{"t":"2","g":"KO","v":1.07},{"t":"2","g":"KO","v":0.66},
{"t":"3","g":"WT","v":1.15},{"t":"3","g":"WT","v":1.10},{"t":"3","g":"WT","v":0.59},
{"t":"3","g":"KO","v":3.37},{"t":"3","g":"KO","v":1.94},{"t":"3","g":"KO","v":1.72},{"t":"3","g":"KO","v":1.67},{"t":"3","g":"KO","v":1.62},{"t":"3","g":"KO","v":1.33},{"t":"3","g":"KO","v":1.02},{"t":"3","g":"KO","v":0.95},
{"t":"2","g":"KO","lab":"#","ya":2.71}
],
"Tbx1":[
{"t":"Pre-Op","g":"WT","m":1.39,"lo":0.02,"hi":2.76},{"t":"Pre-Op","g":"KO","m":1.05,"lo":0.34,"hi":1.85},{"t":"1","g":"WT","m":0.54,"lo":0.33,"hi":0.75},{"t":"1","g":"KO","m":1.39,"lo":0.08,"hi":2.70},{"t":"2","g":"WT","m":1.79,"lo":0.68,"hi":2.86},{"t":"2","g":"KO","m":1.95,"lo":0.54,"hi":3.46},{"t":"3","g":"WT","m":1.69,"lo":0.0,"hi":3.90},{"t":"3","g":"KO","m":3.62,"lo":0.08,"hi":7.15},
{"t":"Pre-Op","g":"WT","v":3.36},{"t":"Pre-Op","g":"WT","v":1.25},{"t":"Pre-Op","g":"WT","v":0.54},{"t":"Pre-Op","g":"WT","v":0.44},
{"t":"Pre-Op","g":"KO","v":1.85},{"t":"Pre-Op","g":"KO","v":0.95},{"t":"Pre-Op","g":"KO","v":0.34},
{"t":"1","g":"WT","v":0.79},{"t":"1","g":"WT","v":0.60},{"t":"1","g":"WT","v":0.44},{"t":"1","g":"WT","v":0.38},
{"t":"1","g":"KO","v":3.06},{"t":"1","g":"KO","v":2.05},{"t":"1","g":"KO","v":1.15},{"t":"1","g":"KO","v":0.38},{"t":"1","g":"KO","v":0.28},{"t":"1","g":"KO","v":0.24},
{"t":"2","g":"WT","v":2.82},{"t":"2","g":"WT","v":2.76},{"t":"2","g":"WT","v":2.56},{"t":"2","g":"WT","v":1.35},{"t":"2","g":"WT","v":0.68},{"t":"2","g":"WT","v":0.54},
{"t":"2","g":"KO","v":4.57},{"t":"2","g":"KO","v":2.76},{"t":"2","g":"KO","v":1.75},{"t":"2","g":"KO","v":1.21},{"t":"2","g":"KO","v":0.54},
{"t":"3","g":"WT","v":4.97},{"t":"3","g":"WT","v":1.45},{"t":"3","g":"WT","v":0.38},{"t":"3","g":"WT","v":0.37},
{"t":"3","g":"KO","v":8.43},{"t":"3","g":"KO","v":8.20},{"t":"3","g":"KO","v":7.13},{"t":"3","g":"KO","v":1.61},{"t":"3","g":"KO","v":1.29},{"t":"3","g":"KO","v":1.25},{"t":"3","g":"KO","v":0.95},{"t":"3","g":"KO","v":0.74}
],
"DCA":[
{"t":"Pre-Op","g":"WT","m":0},{"t":"Pre-Op","g":"KO","m":4940,"lo":1180,"hi":8830},{"t":"1","g":"WT","m":780,"lo":0,"hi":2470},{"t":"1","g":"KO","m":1990,"lo":910,"hi":3000},{"t":"2","g":"WT","m":270,"lo":0,"hi":860},{"t":"2","g":"KO","m":4890,"lo":1850,"hi":7970},{"t":"3","g":"WT","m":2550,"lo":0,"hi":5770},{"t":"3","g":"KO","m":3010,"lo":1610,"hi":4400},
{"t":"Pre-Op","g":"WT","v":0},{"t":"Pre-Op","g":"WT","v":0},{"t":"Pre-Op","g":"WT","v":0},{"t":"Pre-Op","g":"WT","v":0},
{"t":"Pre-Op","g":"KO","v":9130},{"t":"Pre-Op","g":"KO","v":7380},{"t":"Pre-Op","g":"KO","v":2250},{"t":"Pre-Op","g":"KO","v":1260},
{"t":"1","g":"WT","v":3330},{"t":"1","g":"WT","v":0},{"t":"1","g":"WT","v":0},{"t":"1","g":"WT","v":0},
{"t":"1","g":"KO","v":3090},{"t":"1","g":"KO","v":2870},{"t":"1","g":"KO","v":2070},{"t":"1","g":"KO","v":1480},{"t":"1","g":"KO","v":460},
{"t":"2","g":"WT","v":1530},{"t":"2","g":"WT","v":80},{"t":"2","g":"WT","v":60},{"t":"2","g":"WT","v":20},{"t":"2","g":"WT","v":0},
{"t":"2","g":"KO","v":9770},{"t":"2","g":"KO","v":7030},{"t":"2","g":"KO","v":5150},{"t":"2","g":"KO","v":3410},{"t":"2","g":"KO","v":2200},{"t":"2","g":"KO","v":1880},
{"t":"3","g":"WT","v":5370},{"t":"3","g":"WT","v":1900},{"t":"3","g":"WT","v":380},
{"t":"3","g":"KO","v":5900},{"t":"3","g":"KO","v":3100},{"t":"3","g":"KO","v":3000},{"t":"3","g":"KO","v":2900},{"t":"3","g":"KO","v":2200},{"t":"3","g":"KO","v":2050},{"t":"3","g":"KO","v":1660},
{"t":"Pre-Op","g":"KO","lab":"#","ya":10250},{"t":"2","g":"KO","lab":"#","ya":10790},{"t":"3","g":"WT","lab":"$","ya":7840}
],
"TDCA":[
{"t":"Pre-Op","g":"WT","m":0},{"t":"Pre-Op","g":"KO","m":3000,"lo":1190,"hi":4810},{"t":"1","g":"WT","m":1350,"lo":0,"hi":3930},{"t":"1","g":"KO","m":2820,"lo":2520,"hi":3120},{"t":"2","g":"WT","m":240,"lo":0,"hi":640},{"t":"2","g":"KO","m":4270,"lo":2090,"hi":6380},{"t":"3","g":"WT","m":2260,"lo":1090,"hi":3420},{"t":"3","g":"KO","m":3000,"lo":1550,"hi":4510},
{"t":"Pre-Op","g":"WT","v":0},{"t":"Pre-Op","g":"WT","v":0},{"t":"Pre-Op","g":"WT","v":0},{"t":"Pre-Op","g":"WT","v":0},
{"t":"Pre-Op","g":"KO","v":5480},{"t":"Pre-Op","g":"KO","v":3020},{"t":"Pre-Op","g":"KO","v":2420},{"t":"Pre-Op","g":"KO","v":1250},
{"t":"1","g":"WT","v":5170},{"t":"1","g":"WT","v":140},{"t":"1","g":"WT","v":80},{"t":"1","g":"WT","v":0},
{"t":"1","g":"KO","v":3100},{"t":"1","g":"KO","v":2980},{"t":"1","g":"KO","v":2860},{"t":"1","g":"KO","v":2700},{"t":"1","g":"KO","v":2300},
{"t":"2","g":"WT","v":890},{"t":"2","g":"WT","v":540},{"t":"2","g":"WT","v":240},{"t":"2","g":"WT","v":80},{"t":"2","g":"WT","v":0},
{"t":"2","g":"KO","v":7830},{"t":"2","g":"KO","v":5640},{"t":"2","g":"KO","v":4170},{"t":"2","g":"KO","v":3000},{"t":"2","g":"KO","v":2560},{"t":"2","g":"KO","v":2260},
{"t":"3","g":"WT","v":3060},{"t":"3","g":"WT","v":2860},{"t":"3","g":"WT","v":910},
{"t":"3","g":"KO","v":5240},{"t":"3","g":"KO","v":4230},{"t":"3","g":"KO","v":4070},{"t":"3","g":"KO","v":3060},{"t":"3","g":"KO","v":2500},{"t":"3","g":"KO","v":2090},{"t":"3","g":"KO","v":680},
{"t":"Pre-Op","g":"KO","lab":"#","ya":6520},{"t":"2","g":"KO","lab":"#","ya":8500},{"t":"3","g":"WT","lab":"$","ya":6120}
]
},
"concat":[
{"title":"Srebp1c","width":150,"height":148,"data":{"name":"Srebp1c"},
"encoding":{"x":{"field":"t","type":"nominal","sort":["Pre-Op","1","2","3"],"scale":{"paddingInner":0.22,"paddingOuter":0.19},"axis":{"title":"Time (Mo)"}},"xOffset":{"field":"g","type":"nominal","sort":["WT","KO"],"scale":{"paddingInner":0.04}}},
"layer":[
{"mark":"bar","encoding":{"y":{"field":"m","type":"quantitative","scale":{"domain":[0,2]},"axis":{"values":[0,1,2],"format":"d","title":"Relative Gene Expression"}},"fill":{"field":"g","type":"nominal","scale":{"domain":["WT","KO"],"range":["#00695e","#9dd5cc"]},"legend":null}}},
{"mark":"rule","encoding":{"y":{"field":"lo","type":"quantitative"},"y2":{"field":"hi"}}},
{"mark":{"type":"tick","size":7},"encoding":{"y":{"field":"hi","type":"quantitative"}}},
{"mark":{"type":"tick","size":7},"encoding":{"y":{"field":"lo","type":"quantitative"}}},
{"mark":"point","encoding":{"y":{"field":"v","type":"quantitative"},"shape":{"field":"g","type":"nominal","scale":{"domain":["WT","KO"],"range":["circle","square"]},"legend":null}}},
{"mark":"text","encoding":{"y":{"field":"ya","type":"quantitative"},"text":{"field":"lab"}}}
]},
{"title":"Acss2","width":150,"height":148,"data":{"name":"Acss2"},
"encoding":{"x":{"field":"t","type":"nominal","sort":["Pre-Op","1","2","3"],"scale":{"paddingInner":0.22,"paddingOuter":0.19},"axis":{"title":"Time (Mo)"}},"xOffset":{"field":"g","type":"nominal","sort":["WT","KO"],"scale":{"paddingInner":0.04}}},
"layer":[
{"mark":"bar","encoding":{"y":{"field":"m","type":"quantitative","scale":{"domain":[0,3.5]},"axis":{"values":[0,1.75,3.5],"format":".2f","title":"Relative Gene Expression"}},"fill":{"field":"g","type":"nominal","scale":{"domain":["WT","KO"],"range":["#00695e","#9dd5cc"]},"legend":null}}},
{"mark":"rule","encoding":{"y":{"field":"lo","type":"quantitative"},"y2":{"field":"hi"}}},
{"mark":{"type":"tick","size":7},"encoding":{"y":{"field":"hi","type":"quantitative"}}},
{"mark":{"type":"tick","size":7},"encoding":{"y":{"field":"lo","type":"quantitative"}}},
{"mark":"point","encoding":{"y":{"field":"v","type":"quantitative"},"shape":{"field":"g","type":"nominal","scale":{"domain":["WT","KO"],"range":["circle","square"]},"legend":null}}},
{"mark":"text","encoding":{"y":{"field":"ya","type":"quantitative"},"text":{"field":"lab"}}}
]},
{"title":"Fas","width":150,"height":148,"data":{"name":"Fas"},
"encoding":{"x":{"field":"t","type":"nominal","sort":["Pre-Op","1","2","3"],"scale":{"paddingInner":0.22,"paddingOuter":0.19},"axis":{"title":"Time (Mo)"}},"xOffset":{"field":"g","type":"nominal","sort":["WT","KO"],"scale":{"paddingInner":0.04}}},
"layer":[
{"mark":"bar","encoding":{"y":{"field":"m","type":"quantitative","scale":{"domain":[0,2]},"axis":{"values":[0,1,2],"format":"d","title":"Relative Gene Expression"}},"fill":{"field":"g","type":"nominal","scale":{"domain":["WT","KO"],"range":["#00695e","#9dd5cc"]},"legend":null}}},
{"mark":"rule","encoding":{"y":{"field":"lo","type":"quantitative"},"y2":{"field":"hi"}}},
{"mark":{"type":"tick","size":7},"encoding":{"y":{"field":"hi","type":"quantitative"}}},
{"mark":{"type":"tick","size":7},"encoding":{"y":{"field":"lo","type":"quantitative"}}},
{"mark":"point","encoding":{"y":{"field":"v","type":"quantitative"},"shape":{"field":"g","type":"nominal","scale":{"domain":["WT","KO"],"range":["circle","square"]},"legend":null}}},
{"mark":"text","encoding":{"y":{"field":"ya","type":"quantitative"},"text":{"field":"lab"}}}
]},
{"title":"Scd1","width":150,"height":148,"data":{"name":"Scd1"},
"encoding":{"x":{"field":"t","type":"nominal","sort":["Pre-Op","1","2","3"],"scale":{"paddingInner":0.22,"paddingOuter":0.19},"axis":{"title":"Time (Mo)"}},"xOffset":{"field":"g","type":"nominal","sort":["WT","KO"],"scale":{"paddingInner":0.04}}},
"layer":[
{"mark":"bar","encoding":{"y":{"field":"m","type":"quantitative","scale":{"domain":[0,5]},"axis":{"values":[0,2.5,5],"format":".1f","title":"Relative Gene Expression"}},"fill":{"field":"g","type":"nominal","scale":{"domain":["WT","KO"],"range":["#00695e","#9dd5cc"]},"legend":null}}},
{"mark":"rule","encoding":{"y":{"field":"lo","type":"quantitative"},"y2":{"field":"hi"}}},
{"mark":{"type":"tick","size":7},"encoding":{"y":{"field":"hi","type":"quantitative"}}},
{"mark":{"type":"tick","size":7},"encoding":{"y":{"field":"lo","type":"quantitative"}}},
{"mark":"point","encoding":{"y":{"field":"v","type":"quantitative"},"shape":{"field":"g","type":"nominal","scale":{"domain":["WT","KO"],"range":["circle","square"]},"legend":null}}},
{"mark":"text","encoding":{"y":{"field":"ya","type":"quantitative"},"text":{"field":"lab"}}}
]},
{"title":"Acaca","width":150,"height":148,"data":{"name":"Acaca"},
"encoding":{"x":{"field":"t","type":"nominal","sort":["Pre-Op","1","2","3"],"scale":{"paddingInner":0.22,"paddingOuter":0.19},"axis":{"title":"Time (Mo)"}},"xOffset":{"field":"g","type":"nominal","sort":["WT","KO"],"scale":{"paddingInner":0.04}}},
"layer":[
{"mark":"bar","encoding":{"y":{"field":"m","type":"quantitative","scale":{"domain":[0,6]},"axis":{"values":[0,3,6],"format":"d","title":"Relative Gene Expression"}},"fill":{"field":"g","type":"nominal","scale":{"domain":["WT","KO"],"range":["#00695e","#9dd5cc"]},"legend":null}}},
{"mark":"rule","encoding":{"y":{"field":"lo","type":"quantitative"},"y2":{"field":"hi"}}},
{"mark":{"type":"tick","size":7},"encoding":{"y":{"field":"hi","type":"quantitative"}}},
{"mark":{"type":"tick","size":7},"encoding":{"y":{"field":"lo","type":"quantitative"}}},
{"mark":"point","encoding":{"y":{"field":"v","type":"quantitative"},"shape":{"field":"g","type":"nominal","scale":{"domain":["WT","KO"],"range":["circle","square"]},"legend":null}}}
]},
{"title":"Cd36","width":150,"height":148,"data":{"name":"Cd36A"},
"encoding":{"x":{"field":"t","type":"nominal","sort":["Pre-Op","1","2","3"],"scale":{"paddingInner":0.22,"paddingOuter":0.19},"axis":{"title":"Time (Mo)"}},"xOffset":{"field":"g","type":"nominal","sort":["WT","KO"],"scale":{"paddingInner":0.04}}},
"layer":[
{"mark":"bar","encoding":{"y":{"field":"m","type":"quantitative","scale":{"domain":[0,7]},"axis":{"values":[0,3.5,7],"format":".1f","title":"Relative Gene Expression"}},"fill":{"field":"g","type":"nominal","scale":{"domain":["WT","KO"],"range":["#00695e","#9dd5cc"]},"legend":null}}},
{"mark":"rule","encoding":{"y":{"field":"lo","type":"quantitative"},"y2":{"field":"hi"}}},
{"mark":{"type":"tick","size":7},"encoding":{"y":{"field":"hi","type":"quantitative"}}},
{"mark":{"type":"tick","size":7},"encoding":{"y":{"field":"lo","type":"quantitative"}}},
{"mark":"point","encoding":{"y":{"field":"v","type":"quantitative"},"shape":{"field":"g","type":"nominal","scale":{"domain":["WT","KO"],"range":["circle","square"]},"legend":null}}},
{"mark":"text","encoding":{"y":{"field":"ya","type":"quantitative"},"text":{"field":"lab"}}}
]},
{"title":"Mttp","width":150,"height":148,"data":{"name":"Mttp"},
"encoding":{"x":{"field":"t","type":"nominal","sort":["Pre-Op","1","2","3"],"scale":{"paddingInner":0.22,"paddingOuter":0.19},"axis":{"title":"Time (Mo)"}},"xOffset":{"field":"g","type":"nominal","sort":["WT","KO"],"scale":{"paddingInner":0.04}}},
"layer":[
{"mark":"bar","encoding":{"y":{"field":"m","type":"quantitative","scale":{"domain":[0,2]},"axis":{"values":[0,1,2],"format":"d","title":"Relative Gene Expression"}},"fill":{"field":"g","type":"nominal","scale":{"domain":["WT","KO"],"range":["#00695e","#9dd5cc"]},"legend":null}}},
{"mark":"rule","encoding":{"y":{"field":"lo","type":"quantitative"},"y2":{"field":"hi"}}},
{"mark":{"type":"tick","size":7},"encoding":{"y":{"field":"hi","type":"quantitative"}}},
{"mark":{"type":"tick","size":7},"encoding":{"y":{"field":"lo","type":"quantitative"}}},
{"mark":"point","encoding":{"y":{"field":"v","type":"quantitative"},"shape":{"field":"g","type":"nominal","scale":{"domain":["WT","KO"],"range":["circle","square"]},"legend":null}}},
{"mark":"text","encoding":{"y":{"field":"ya","type":"quantitative"},"text":{"field":"lab"}}}
]},
{"title":"Pparα","width":150,"height":148,"data":{"name":"Ppara"},
"encoding":{"x":{"field":"t","type":"nominal","sort":["Pre-Op","1","2","3"],"scale":{"paddingInner":0.22,"paddingOuter":0.19},"axis":{"title":"Time (Mo)"}},"xOffset":{"field":"g","type":"nominal","sort":["WT","KO"],"scale":{"paddingInner":0.04}}},
"layer":[
{"mark":"bar","encoding":{"y":{"field":"m","type":"quantitative","scale":{"domain":[0,2]},"axis":{"values":[0,1,2],"format":"d","title":"Relative Gene Expression"}},"fill":{"field":"g","type":"nominal","scale":{"domain":["WT","KO"],"range":["#00695e","#9dd5cc"]},"legend":null}}},
{"mark":"rule","encoding":{"y":{"field":"lo","type":"quantitative"},"y2":{"field":"hi"}}},
{"mark":{"type":"tick","size":7},"encoding":{"y":{"field":"hi","type":"quantitative"}}},
{"mark":{"type":"tick","size":7},"encoding":{"y":{"field":"lo","type":"quantitative"}}},
{"mark":"point","encoding":{"y":{"field":"v","type":"quantitative"},"shape":{"field":"g","type":"nominal","scale":{"domain":["WT","KO"],"range":["circle","square"]},"legend":null}}},
{"mark":"text","encoding":{"y":{"field":"ya","type":"quantitative"},"text":{"field":"lab"}}}
]},
{"title":"Cyp4a10","width":150,"height":148,"data":{"name":"Cyp4a10"},
"encoding":{"x":{"field":"t","type":"nominal","sort":["Pre-Op","1","2","3"],"scale":{"paddingInner":0.22,"paddingOuter":0.19},"axis":{"title":"Time (Mo)"}},"xOffset":{"field":"g","type":"nominal","sort":["WT","KO"],"scale":{"paddingInner":0.04}}},
"layer":[
{"mark":"bar","encoding":{"y":{"field":"m","type":"quantitative","scale":{"domain":[0,4]},"axis":{"values":[0,2,4],"format":"d","title":"Relative Gene Expression"}},"fill":{"field":"g","type":"nominal","scale":{"domain":["WT","KO"],"range":["#00695e","#9dd5cc"]},"legend":null}}},
{"mark":"rule","encoding":{"y":{"field":"lo","type":"quantitative"},"y2":{"field":"hi"}}},
{"mark":{"type":"tick","size":7},"encoding":{"y":{"field":"hi","type":"quantitative"}}},
{"mark":{"type":"tick","size":7},"encoding":{"y":{"field":"lo","type":"quantitative"}}},
{"mark":"point","encoding":{"y":{"field":"v","type":"quantitative"},"shape":{"field":"g","type":"nominal","scale":{"domain":["WT","KO"],"range":["circle","square"]},"legend":null}}},
{"mark":"text","encoding":{"y":{"field":"ya","type":"quantitative"},"text":{"field":"lab"}}},
{"data":{"values":[{"t":"Pre-Op","g":"WT","p":"(B)"}]},"mark":{"type":"text","fontSize":17,"fontWeight":"normal","font":"Liberation Sans","dx":-32,"dy":56},"encoding":{"y":{"datum":0},"text":{"field":"p"}}}
]},
{"title":"Cpt1","width":150,"height":148,"data":{"name":"Cpt1"},
"encoding":{"x":{"field":"t","type":"nominal","sort":["Pre-Op","1","2","3"],"scale":{"paddingInner":0.22,"paddingOuter":0.19},"axis":{"title":"Time (Mo)"}},"xOffset":{"field":"g","type":"nominal","sort":["WT","KO"],"scale":{"paddingInner":0.04}}},
"layer":[
{"mark":"bar","encoding":{"y":{"field":"m","type":"quantitative","scale":{"domain":[0,5]},"axis":{"values":[0,2.5,5],"format":".1f","title":"Relative Gene Expression"}},"fill":{"field":"g","type":"nominal","scale":{"domain":["WT","KO"],"range":["#00695e","#9dd5cc"]},"legend":null}}},
{"mark":"rule","encoding":{"y":{"field":"lo","type":"quantitative"},"y2":{"field":"hi"}}},
{"mark":{"type":"tick","size":7},"encoding":{"y":{"field":"hi","type":"quantitative"}}},
{"mark":{"type":"tick","size":7},"encoding":{"y":{"field":"lo","type":"quantitative"}}},
{"mark":"point","encoding":{"y":{"field":"v","type":"quantitative"},"shape":{"field":"g","type":"nominal","scale":{"domain":["WT","KO"],"range":["circle","square"]},"legend":null}}},
{"mark":"text","encoding":{"y":{"field":"ya","type":"quantitative"},"text":{"field":"lab"}}}
]},
{"title":"Acox1","width":150,"height":148,"data":{"name":"Acox1"},
"encoding":{"x":{"field":"t","type":"nominal","sort":["Pre-Op","1","2","3"],"scale":{"paddingInner":0.22,"paddingOuter":0.19},"axis":{"title":"Time (Mo)"}},"xOffset":{"field":"g","type":"nominal","sort":["WT","KO"],"scale":{"paddingInner":0.04}}},
"layer":[
{"mark":"bar","encoding":{"y":{"field":"m","type":"quantitative","scale":{"domain":[0,2]},"axis":{"values":[0,1,2],"format":"d","title":"Relative Gene Expression"}},"fill":{"field":"g","type":"nominal","scale":{"domain":["WT","KO"],"range":["#00695e","#9dd5cc"]},"legend":null}}},
{"mark":"rule","encoding":{"y":{"field":"lo","type":"quantitative"},"y2":{"field":"hi"}}},
{"mark":{"type":"tick","size":7},"encoding":{"y":{"field":"hi","type":"quantitative"}}},
{"mark":{"type":"tick","size":7},"encoding":{"y":{"field":"lo","type":"quantitative"}}},
{"mark":"point","encoding":{"y":{"field":"v","type":"quantitative"},"shape":{"field":"g","type":"nominal","scale":{"domain":["WT","KO"],"range":["circle","square"]},"legend":null}}},
{"mark":"text","encoding":{"y":{"field":"ya","type":"quantitative"},"text":{"field":"lab"}}}
]},
{"title":"Fgf21","width":150,"height":148,"data":{"name":"Fgf21"},
"encoding":{"x":{"field":"t","type":"nominal","sort":["Pre-Op","1","2","3"],"scale":{"paddingInner":0.22,"paddingOuter":0.19},"axis":{"title":"Time (Mo)"}},"xOffset":{"field":"g","type":"nominal","sort":["WT","KO"],"scale":{"paddingInner":0.04}}},
"layer":[
{"mark":"bar","encoding":{"y":{"field":"m","type":"quantitative","scale":{"domain":[0,34]},"axis":{"values":[0,17,34],"format":"d","title":"Relative Gene Expression"}},"fill":{"field":"g","type":"nominal","scale":{"domain":["WT","KO"],"range":["#00695e","#9dd5cc"]},"legend":null}}},
{"mark":"rule","encoding":{"y":{"field":"lo","type":"quantitative"},"y2":{"field":"hi"}}},
{"mark":{"type":"tick","size":7},"encoding":{"y":{"field":"hi","type":"quantitative"}}},
{"mark":{"type":"tick","size":7},"encoding":{"y":{"field":"lo","type":"quantitative"}}},
{"mark":"point","encoding":{"y":{"field":"v","type":"quantitative"},"shape":{"field":"g","type":"nominal","scale":{"domain":["WT","KO"],"range":["circle","square"]},"legend":null}}},
{"mark":"text","encoding":{"y":{"field":"ya","type":"quantitative"},"text":{"field":"lab"}}}
]},
{"title":"Tgr5","width":150,"height":148,"data":{"name":"Tgr5"},
"encoding":{"x":{"field":"t","type":"nominal","sort":["Pre-Op","1","2","3"],"scale":{"paddingInner":0.22,"paddingOuter":0.19},"axis":{"title":"Time (Mo)"}},"xOffset":{"field":"g","type":"nominal","sort":["WT","KO"],"scale":{"paddingInner":0.04}}},
"layer":[
{"mark":"bar","encoding":{"y":{"field":"m","type":"quantitative","scale":{"domain":[0,9]},"axis":{"values":[0,4.5,9],"format":".1f","title":"Relative Gene Expression"}},"fill":{"field":"g","type":"nominal","scale":{"domain":["WT","KO"],"range":["#00695e","#9dd5cc"]},"legend":null}}},
{"mark":"rule","encoding":{"y":{"field":"lo","type":"quantitative"},"y2":{"field":"hi"}}},
{"mark":{"type":"tick","size":7},"encoding":{"y":{"field":"hi","type":"quantitative"}}},
{"mark":{"type":"tick","size":7},"encoding":{"y":{"field":"lo","type":"quantitative"}}},
{"mark":"point","encoding":{"y":{"field":"v","type":"quantitative"},"shape":{"field":"g","type":"nominal","scale":{"domain":["WT","KO"],"range":["circle","square"]},"legend":null}}}
]},
{"title":"Cd36","width":150,"height":148,"data":{"name":"Cd36B"},
"encoding":{"x":{"field":"t","type":"nominal","sort":["Pre-Op","1","2","3"],"scale":{"paddingInner":0.22,"paddingOuter":0.19},"axis":{"title":"Time (Mo)"}},"xOffset":{"field":"g","type":"nominal","sort":["WT","KO"],"scale":{"paddingInner":0.04}}},
"layer":[
{"mark":"bar","encoding":{"y":{"field":"m","type":"quantitative","scale":{"domain":[0,2]},"axis":{"values":[0,1,2],"format":"d","title":"Relative Gene Expression"}},"fill":{"field":"g","type":"nominal","scale":{"domain":["WT","KO"],"range":["#00695e","#9dd5cc"]},"legend":null}}},
{"mark":"rule","encoding":{"y":{"field":"lo","type":"quantitative"},"y2":{"field":"hi"}}},
{"mark":{"type":"tick","size":7},"encoding":{"y":{"field":"hi","type":"quantitative"}}},
{"mark":{"type":"tick","size":7},"encoding":{"y":{"field":"lo","type":"quantitative"}}},
{"mark":"point","encoding":{"y":{"field":"v","type":"quantitative"},"shape":{"field":"g","type":"nominal","scale":{"domain":["WT","KO"],"range":["circle","square"]},"legend":null}}},
{"mark":"text","encoding":{"y":{"field":"ya","type":"quantitative"},"text":{"field":"lab"}}}
]},
{"title":"Ucp1","width":150,"height":148,"data":{"name":"Ucp1"},
"encoding":{"x":{"field":"t","type":"nominal","sort":["Pre-Op","1","2","3"],"scale":{"paddingInner":0.22,"paddingOuter":0.19},"axis":{"title":"Time (Mo)"}},"xOffset":{"field":"g","type":"nominal","sort":["WT","KO"],"scale":{"paddingInner":0.04}}},
"layer":[
{"mark":"bar","encoding":{"y":{"field":"m","type":"quantitative","scale":{"domain":[0,2]},"axis":{"values":[0,1,2],"format":"d","title":"Relative Gene Expression"}},"fill":{"field":"g","type":"nominal","scale":{"domain":["WT","KO"],"range":["#00695e","#9dd5cc"]},"legend":null}}},
{"mark":"rule","encoding":{"y":{"field":"lo","type":"quantitative"},"y2":{"field":"hi"}}},
{"mark":{"type":"tick","size":7},"encoding":{"y":{"field":"hi","type":"quantitative"}}},
{"mark":{"type":"tick","size":7},"encoding":{"y":{"field":"lo","type":"quantitative"}}},
{"mark":"point","encoding":{"y":{"field":"v","type":"quantitative"},"shape":{"field":"g","type":"nominal","scale":{"domain":["WT","KO"],"range":["circle","square"]},"legend":null}}},
{"mark":"text","encoding":{"y":{"field":"ya","type":"quantitative"},"text":{"field":"lab"}}},
{"data":{"values":[{"t":"Pre-Op","g":"WT","p":"(C)"}]},"mark":{"type":"text","fontSize":17,"fontWeight":"normal","font":"Liberation Sans","dx":-60,"dy":56},"encoding":{"y":{"datum":0},"text":{"field":"p"}}}
]},
{"title":"Ap2","width":150,"height":148,"data":{"name":"Ap2"},
"encoding":{"x":{"field":"t","type":"nominal","sort":["Pre-Op","1","2","3"],"scale":{"paddingInner":0.22,"paddingOuter":0.19},"axis":{"title":"Time (Mo)"}},"xOffset":{"field":"g","type":"nominal","sort":["WT","KO"],"scale":{"paddingInner":0.04}}},
"layer":[
{"mark":"bar","encoding":{"y":{"field":"m","type":"quantitative","scale":{"domain":[0,4]},"axis":{"values":[0,2,4],"format":"d","title":"Relative Gene Expression"}},"fill":{"field":"g","type":"nominal","scale":{"domain":["WT","KO"],"range":["#00695e","#9dd5cc"]},"legend":null}}},
{"mark":"rule","encoding":{"y":{"field":"lo","type":"quantitative"},"y2":{"field":"hi"}}},
{"mark":{"type":"tick","size":7},"encoding":{"y":{"field":"hi","type":"quantitative"}}},
{"mark":{"type":"tick","size":7},"encoding":{"y":{"field":"lo","type":"quantitative"}}},
{"mark":"point","encoding":{"y":{"field":"v","type":"quantitative"},"shape":{"field":"g","type":"nominal","scale":{"domain":["WT","KO"],"range":["circle","square"]},"legend":null}}},
{"mark":"text","encoding":{"y":{"field":"ya","type":"quantitative"},"text":{"field":"lab"}}}
]},
{"title":"Tbx1","width":150,"height":148,"data":{"name":"Tbx1"},
"encoding":{"x":{"field":"t","type":"nominal","sort":["Pre-Op","1","2","3"],"scale":{"paddingInner":0.22,"paddingOuter":0.19},"axis":{"title":"Time (Mo)"}},"xOffset":{"field":"g","type":"nominal","sort":["WT","KO"],"scale":{"paddingInner":0.04}}},
"layer":[
{"mark":"bar","encoding":{"y":{"field":"m","type":"quantitative","scale":{"domain":[0,9]},"axis":{"values":[0,4.5,9],"format":".1f","title":"Relative Gene Expression"}},"fill":{"field":"g","type":"nominal","scale":{"domain":["WT","KO"],"range":["#00695e","#9dd5cc"]},"legend":{"title":null,"orient":"none","legendX":175,"legendY":37,"labelFontSize":14,"labelColor":"#222","symbolSize":64,"rowPadding":4,"labelOffset":6,"symbolStrokeWidth":0,"symbolStrokeColor":"transparent","labelExpr":"datum.value == 'WT' ? 'WT' : 'Fgf15ⁱˡᵉ⁻ᐟ⁻'"}}}},
{"mark":"rule","encoding":{"y":{"field":"lo","type":"quantitative"},"y2":{"field":"hi"}}},
{"mark":{"type":"tick","size":7},"encoding":{"y":{"field":"hi","type":"quantitative"}}},
{"mark":{"type":"tick","size":7},"encoding":{"y":{"field":"lo","type":"quantitative"}}},
{"mark":"point","encoding":{"y":{"field":"v","type":"quantitative"},"shape":{"field":"g","type":"nominal","scale":{"domain":["WT","KO"],"range":["circle","square"]},"legend":{"title":null,"orient":"none","legendX":175,"legendY":37,"labelFontSize":14,"labelColor":"#222","symbolSize":64,"rowPadding":4,"labelOffset":6,"symbolStrokeWidth":0,"symbolStrokeColor":"transparent","labelExpr":"datum.value == 'WT' ? 'WT' : 'Fgf15ⁱˡᵉ⁻ᐟ⁻'"}}}}
]},
{"width":150,"height":148,"data":{"values":[]},"mark":"point"},
{"title":{"text":"Serum DCA","fontStyle":"normal","fontSize":13.5},"width":150,"height":148,"data":{"name":"DCA"},
"encoding":{"x":{"field":"t","type":"nominal","sort":["Pre-Op","1","2","3"],"scale":{"paddingInner":0.22,"paddingOuter":0.19},"axis":{"title":"Time (Mo)"}},"xOffset":{"field":"g","type":"nominal","sort":["WT","KO"],"scale":{"paddingInner":0.04}}},
"layer":[
{"mark":"bar","encoding":{"y":{"field":"m","type":"quantitative","scale":{"domain":[0,12000]},"axis":{"values":[0,4000,8000,12000],"format":"d","title":"ug/L"}},"fill":{"field":"g","type":"nominal","scale":{"domain":["WT","KO"],"range":["#00695e","#9dd5cc"]},"legend":null}}},
{"mark":"rule","encoding":{"y":{"field":"lo","type":"quantitative"},"y2":{"field":"hi"}}},
{"mark":{"type":"tick","size":7},"encoding":{"y":{"field":"hi","type":"quantitative"}}},
{"mark":{"type":"tick","size":7},"encoding":{"y":{"field":"lo","type":"quantitative"}}},
{"mark":"point","encoding":{"y":{"field":"v","type":"quantitative"},"shape":{"field":"g","type":"nominal","scale":{"domain":["WT","KO"],"range":["circle","square"]},"legend":null}}},
{"mark":"text","encoding":{"y":{"field":"ya","type":"quantitative"},"text":{"field":"lab"}}}
]},
{"title":{"text":"Serum TDCA","fontStyle":"normal","fontSize":13.5},"width":150,"height":148,"data":{"name":"TDCA"},
"encoding":{"x":{"field":"t","type":"nominal","sort":["Pre-Op","1","2","3"],"scale":{"paddingInner":0.22,"paddingOuter":0.19},"axis":{"title":"Time (Mo)"}},"xOffset":{"field":"g","type":"nominal","sort":["WT","KO"],"scale":{"paddingInner":0.04}}},
"layer":[
{"mark":"bar","encoding":{"y":{"field":"m","type":"quantitative","scale":{"domain":[0,9000]},"axis":{"values":[0,3000,6000,9000],"format":"d","title":"µg/L"}},"fill":{"field":"g","type":"nominal","scale":{"domain":["WT","KO"],"range":["#00695e","#9dd5cc"]},"legend":null}}},
{"mark":"rule","encoding":{"y":{"field":"lo","type":"quantitative"},"y2":{"field":"hi"}}},
{"mark":{"type":"tick","size":7},"encoding":{"y":{"field":"hi","type":"quantitative"}}},
{"mark":{"type":"tick","size":7},"encoding":{"y":{"field":"lo","type":"quantitative"}}},
{"mark":"point","encoding":{"y":{"field":"v","type":"quantitative"},"shape":{"field":"g","type":"nominal","scale":{"domain":["WT","KO"],"range":["circle","square"]},"legend":null}}},
{"mark":"text","encoding":{"y":{"field":"ya","type":"quantitative"},"text":{"field":"lab"}}}
]}
],
"config":{
"font":"Liberation Sans",
"view":{"stroke":null},
"mark":{"invalid":"filter"},
"bar":{"stroke":"#4d4d4d","strokeWidth":1},
"rule":{"color":"#3a3a3a","strokeWidth":1.2},
"tick":{"color":"#3a3a3a","thickness":1.2},
"point":{"filled":true,"color":"#111111","size":18,"opacity":1},
"text":{"fontSize":11.5,"fontWeight":"normal","color":"#000000","font":"DejaVu Sans"},
"axis":{"grid":false,"labelFont":"Liberation Sans","labelFontSize":9,"labelFontWeight":"bold","labelColor":"#222222","titleFont":"Liberation Sans","titleFontSize":10,"titleFontWeight":"normal","titleColor":"#222222","domainColor":"#4d4d4d","domainWidth":1.4,"tickColor":"#4d4d4d","tickWidth":1.4,"tickSize":4,"labelPadding":2},
"axisX":{"labelAngle":0,"titleFontWeight":"bold","titleFontSize":9,"titlePadding":4,"labelPadding":3},
"axisY":{"titlePadding":3},
"title":{"font":"Liberation Sans","fontSize":12.5,"fontWeight":"bold","fontStyle":"italic","color":"#222222","offset":6,"frame":"group"},
"legend":{"labelFont":"Liberation Sans"}
}
}
